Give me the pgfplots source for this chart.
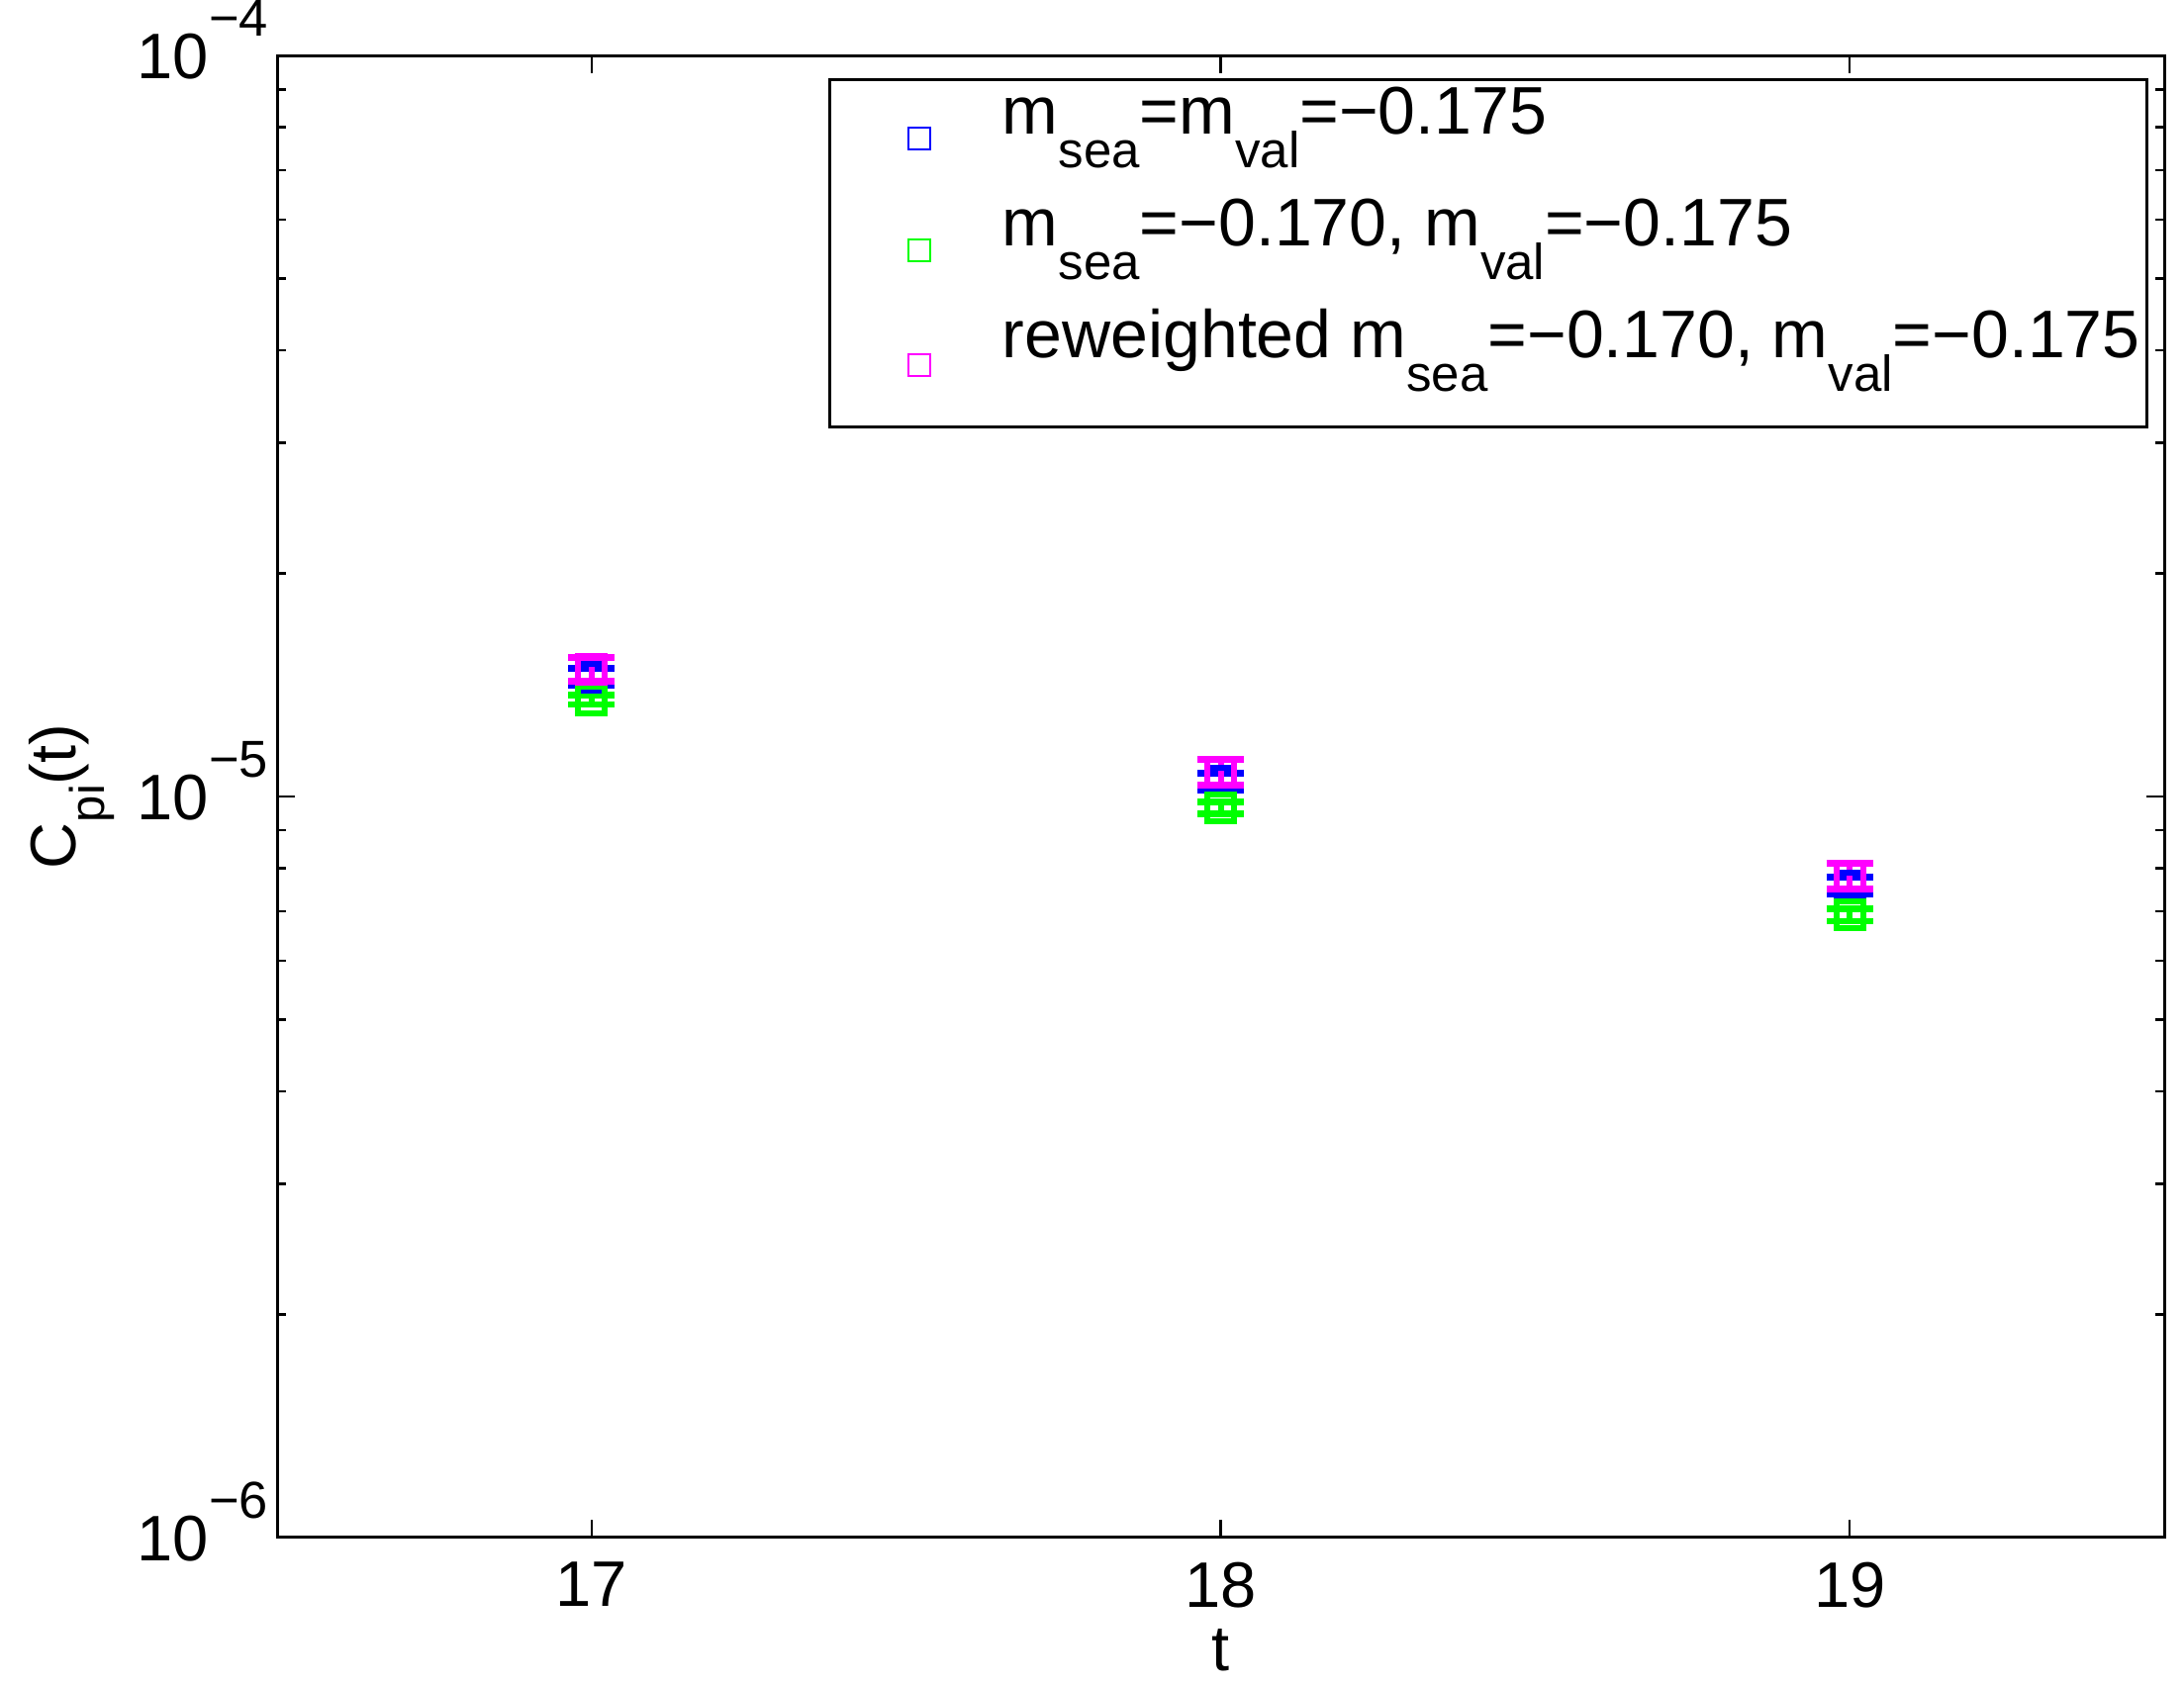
\documentclass[border=0pt]{standalone}
\usepackage{pgfplots}
\pgfplotsset{compat=1.18}
\usepackage{pgfplotstable}
\usepackage{fontspec}
\setmainfont{Liberation Sans}
\newcommand\sub[1]{\raisebox{-0.5em}{\fontsize{10.2}{11}\selectfont #1}}
\newcommand\ysub[1]{\raisebox{-0.45em}{\fontsize{9.8}{10}\selectfont #1}}
\newcommand\ls{\rule[-12.2pt]{0pt}{22.6pt}}
\newcommand\lsl{\rule[-13.6pt]{0pt}{24pt}}
\newcommand\tp[1]{10\raisebox{8.6pt}{\fontsize{10.5}{11}\selectfont −#1}}
\definecolor{mblue}{rgb}{0,0,1}
\definecolor{mgreen}{rgb}{0,1,0}
\definecolor{mmag}{rgb}{1,0,1}
\pgfplotstableread{
x y e
17 1.45e-5 3.8e-7
18 1.047e-5 2.8e-7
19 7.58e-6 2.0e-7
}\tblue
\pgfplotstableread{
x y e
17 1.35e-5 2.0e-7
18 9.65e-6 1.8e-7
19 6.92e-6 1.3e-7
}\tgreen
\pgfplotstableread{
x y e
17 1.485e-5 5.5e-7
18 1.079e-5 4.3e-7
19 7.81e-6 3.1e-7
}\tmag
\begin{document}
\begin{tikzpicture}
\begin{axis}[
 scale only axis, width=381.2pt, height=299.4pt,
 ymode=log, xmin=16.5, xmax=19.5, ymin=1e-6, ymax=1e-4,
 xtick={17,18,19}, xticklabels={17,18,19},
 ytick={1e-6,1e-5,1e-4}, yticklabels={\tp{6},\tp{5},\tp{4}},
 tick align=inside, tick pos=both,
 major tick length=3.6pt, minor tick length=1.8pt,
 every tick/.style={black, line width=0.5pt},
 axis line style={line width=0.6pt},
 tick label style={font=\fontsize{13}{15}\selectfont},
 xticklabel style={yshift=-1.5pt},
 yticklabel style={anchor=base east, yshift=-4.65pt, xshift=1.7pt},
 xlabel={t}, ylabel={C\ysub{pi}(t)},
 label style={font=\fontsize{13}{15}\selectfont},
 xlabel style={at={(axis description cs:0.5,-0.0902)}, anchor=base},
 ylabel style={at={(axis description cs:-0.1089,0.5)}, anchor=center},
 legend style={at={(axis description cs:0.2922,0.9846)}, anchor=north west,
   draw=black, line width=0.6pt, inner xsep=1.4pt, inner ysep=0.5pt,
   font=\fontsize{13.6}{15}\selectfont, nodes={inner sep=0pt, text depth=}, row sep=0pt},
 legend cell align=left,
 legend image code/.code={\path[draw=none,fill=none] (-16.6pt,-5pt) rectangle (16.8pt,5pt); \draw[#1] plot coordinates {(0pt,0pt)};},
 error bars/y dir=both, error bars/y explicit,
]
\addplot[forget plot, only marks, mark=square, mark size=2.7pt, color=mblue, line width=1.2pt,
  error bars/.cd, error mark=-, error mark options={rotate=90, line width=1.3pt, mark size=4.7pt}, error bar style={line width=1.2pt}]
  table[x=x, y=y, y error=e] {\tblue};
\addplot[forget plot, only marks, mark=square, mark size=2.7pt, color=mgreen, line width=1.2pt,
  error bars/.cd, error mark=-, error mark options={rotate=90, line width=1.3pt, mark size=4.7pt}, error bar style={line width=1.2pt}]
  table[x=x, y=y, y error=e] {\tgreen};
\addplot[forget plot, only marks, mark=square, mark size=2.7pt, color=mmag, line width=1.2pt,
  error bars/.cd, error mark=-, error mark options={rotate=90, line width=1.3pt, mark size=4.7pt}, error bar style={line width=1.2pt}]
  table[x=x, y=y, y error=e] {\tmag};
\addlegendimage{mblue, mark=square, mark size=2.2pt, line width=0.45pt, only marks}
\addlegendentry{\ls m\sub{sea}=m\sub{val}=−0.175}
\addlegendimage{mgreen, mark=square, mark size=2.2pt, line width=0.45pt, only marks}
\addlegendentry{\ls m\sub{sea}=−0.170, m\sub{val}=−0.175}
\addlegendimage{mmag, mark=square, mark size=2.2pt, line width=0.45pt, only marks}
\addlegendentry{\lsl reweighted m\sub{sea}=−0.170, m\sub{val}=−0.175}
\node[font=\fontsize{10.2}{11}\selectfont, anchor=base] at (axis description cs:0.3867,1.0314) {sea};
\end{axis}
\pgfresetboundingbox
\useasboundingbox (-56pt,-30pt) rectangle (385.2pt,310.6pt);
\end{tikzpicture}
\end{document}
